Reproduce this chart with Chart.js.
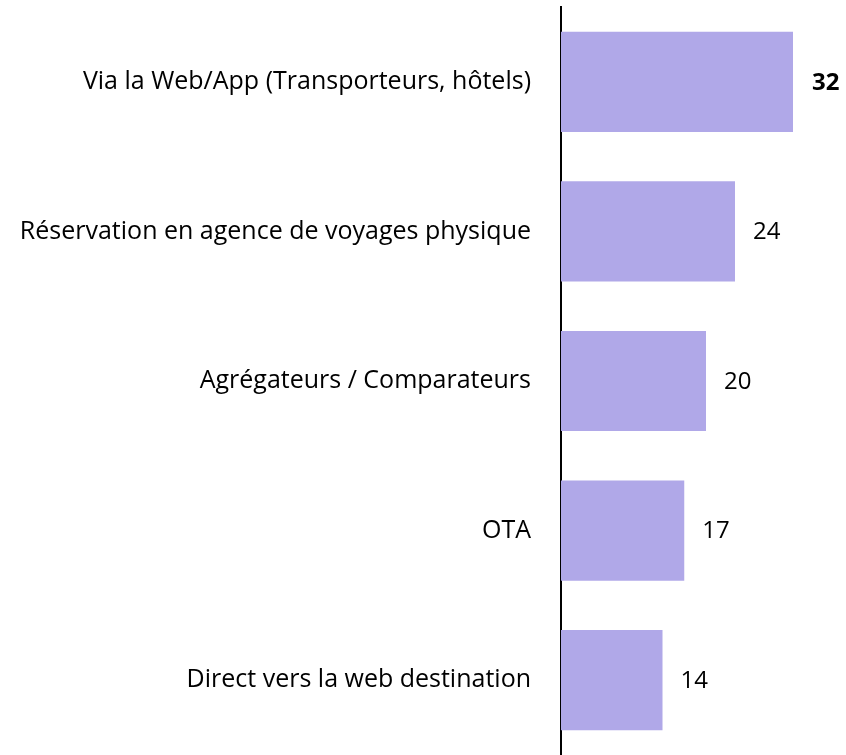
<!DOCTYPE html>
<html>
<head>
<meta charset="utf-8">
<script src="https://cdn.jsdelivr.net/npm/chart.js@4"></script>
<style>
  html, body { margin: 0; padding: 0; background: #fff; }
  #wrap { width: 846px; height: 755px; }
</style>
</head>
<body>
<div id="wrap"><canvas id="chart"></canvas></div>
<script>
// Données du graphique
const categories = [
  'Via la Web/App (Transporteurs, hôtels)',
  'Réservation en agence de voyages physique',
  'Agrégateurs / Comparateurs',
  'OTA',
  'Direct vers la web destination'
];
const values = [32, 24, 20, 17, 14];
const boldIndex = [0]; // étiquettes en gras

const FONT = '"Open Sans", sans-serif';

// Étiquettes de valeur à droite des barres
const valueLabels = {
  id: 'valueLabels',
  afterDatasetsDraw(chart) {
    const ctx = chart.ctx;
    const meta = chart.getDatasetMeta(0);
    ctx.save();
    ctx.fillStyle = '#000';
    ctx.textBaseline = 'middle';
    ctx.textAlign = 'left';
    meta.data.forEach((bar, i) => {
      const bold = boldIndex.includes(i);
      ctx.font = (bold ? 'bold ' : '') + '24px ' + FONT;
      ctx.fillText(String(values[i]), bar.x + (bold ? 19 : 18), bar.y + 1);
    });
    ctx.restore();
  }
};

new Chart(document.getElementById('chart'), {
  type: 'bar',
  data: {
    labels: categories,
    datasets: [{
      data: values,
      backgroundColor: '#b0a8e8',
      borderWidth: 0,
      barPercentage: 0.67,
      categoryPercentage: 1
    }]
  },
  options: {
    indexAxis: 'y',
    responsive: true,
    maintainAspectRatio: false,
    animation: false,
    layout: { padding: { top: 7, right: 24, bottom: 0, left: 0 } },
    plugins: { legend: { display: false }, tooltip: { enabled: false } },
    scales: {
      x: {
        display: false,
        min: 0,
        max: 36
      },
      y: {
        grid: { display: false },
        border: { display: true, color: '#000', width: 2 },
        ticks: {
          color: '#000',
          padding: 22,
          font: { family: FONT, size: 25 }
        },
        afterFit(scale) {
          scale.width = 561;
          scale.paddingTop = 0;
          scale.paddingBottom = 0;
        }
      }
    }
  },
  plugins: [valueLabels]
});
</script>
</body>
</html>
